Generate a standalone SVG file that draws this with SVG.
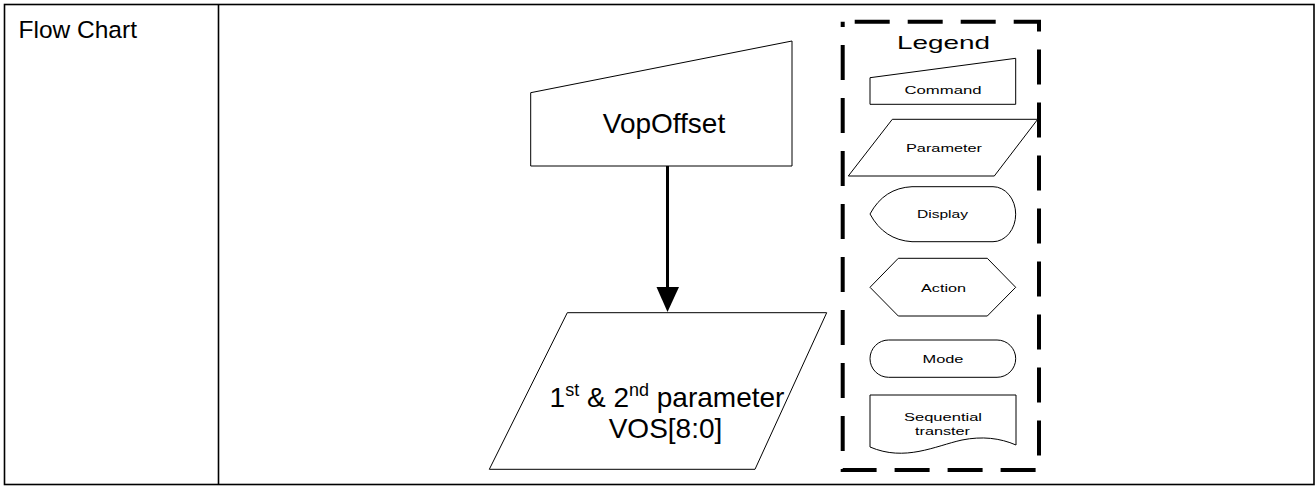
<svg xmlns="http://www.w3.org/2000/svg" width="1316" height="486" viewBox="0 0 1316 486">
<style>
.shape{fill:#fff;stroke:#000;stroke-width:1}
.t{font-family:"Liberation Sans",Arial,sans-serif;fill:#000}
.big{font-size:28px;text-anchor:middle}
.lg{font-size:11px;text-anchor:middle}
</style>
<rect width="1316" height="486" fill="#fff"/>
<g id="table">
<rect x="4.5" y="4.5" width="1309.5" height="480" fill="none" stroke="#000" stroke-width="1.6"/>
<line x1="218.5" y1="4" x2="218.5" y2="485" stroke="#000" stroke-width="1.6"/>
<text class="t" x="18.5" y="38" font-size="24.5">Flow Chart</text>
</g>
<g id="connectors">
<line x1="667.5" y1="166" x2="667.5" y2="288" stroke="#000" stroke-width="3"/>
<polygon points="656.5,287 679,287 667.5,312" fill="#000"/>
</g>
<g id="node-vopoffset">
<polygon class="shape" points="530.7,92.7 792,41 792,166 530.7,166"/>
<text class="t big" x="664" y="133">VopOffset</text>
</g>
<g id="node-parameter">
<polygon class="shape" points="567.3,312.7 826.7,312.7 755,469.3 489.3,469.3"/>
<text class="t big" x="667" y="407">1<tspan font-size="18" dy="-11">st</tspan><tspan dy="11"> &amp; 2</tspan><tspan font-size="18" dy="-11">nd</tspan><tspan dy="11"> parameter</tspan></text>
<text class="t big" x="665.5" y="438">VOS[8:0]</text>
</g>
<g id="legend">
<path d="M842.7,21.7 H1039 V470 H842.7 Z" fill="none" stroke="#000" stroke-width="4" stroke-dasharray="35 18" stroke-dashoffset="41"/>
<text class="t" x="943.5" y="49" font-size="18.5" text-anchor="middle" textLength="93" lengthAdjust="spacingAndGlyphs">Legend</text>
<g id="legend-command">
<polygon class="shape" points="870,77.7 1015.7,58.3 1015.7,104.3 870,104.3"/>
<text class="t lg" x="943" y="94" textLength="77" lengthAdjust="spacingAndGlyphs">Command</text>
</g>
<g id="legend-parameter">
<polygon class="shape" points="892.3,119.3 1037.7,119.3 994.3,176 848.3,176"/>
<text class="t lg" x="944" y="151.5" textLength="76" lengthAdjust="spacingAndGlyphs">Parameter</text>
</g>
<g id="legend-display">
<path class="shape" d="M870,214 Q884,188 912,186.7 L993,186.7 A22.7,27.5 0 0 1 993,241.7 L912,241.7 Q884,240 870,214 Z"/>
<text class="t lg" x="942.5" y="218" textLength="51" lengthAdjust="spacingAndGlyphs">Display</text>
</g>
<g id="legend-action">
<polygon class="shape" points="870,287.3 898.3,258.3 987.3,258.3 1015.7,287.3 987.3,316 898.3,316"/>
<text class="t lg" x="943.5" y="291.5" textLength="45" lengthAdjust="spacingAndGlyphs">Action</text>
</g>
<g id="legend-mode">
<rect class="shape" x="870" y="340" width="145.7" height="37.3" rx="18.65" ry="18.65"/>
<text class="t lg" x="943" y="363" textLength="41" lengthAdjust="spacingAndGlyphs">Mode</text>
</g>
<g id="legend-sequential">
<path class="shape" d="M870,395 H1016 V445 C1000,438 982,436 962,440 C935,446 905,462 870,447 Z"/>
<text class="t lg" x="943" y="421" textLength="78" lengthAdjust="spacingAndGlyphs">Sequential</text>
<text class="t lg" x="942.5" y="435" textLength="55" lengthAdjust="spacingAndGlyphs">transter</text>
</g>
</g>
</svg>
